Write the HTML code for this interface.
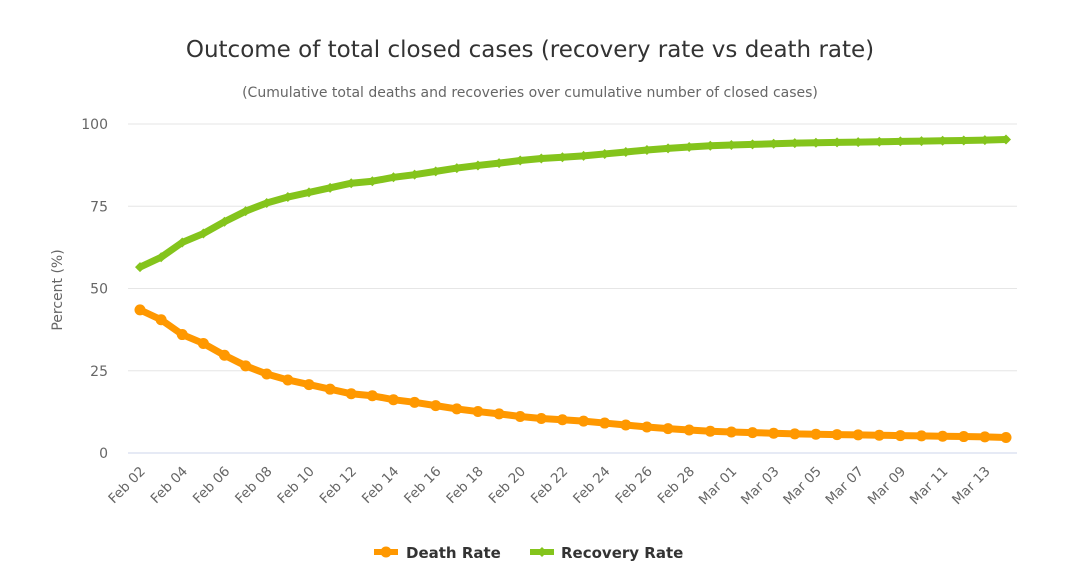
<!DOCTYPE html>
<html><head><meta charset="utf-8"><style>
body{margin:0;background:#fff;}
svg text{font-family:"DejaVu Sans","Liberation Sans",sans-serif;}
</style></head><body>
<svg id="chart" width="1073" height="579" xmlns="http://www.w3.org/2000/svg">
<text x="530" y="57" text-anchor="middle" font-size="23" fill="#333">Outcome of total closed cases (recovery rate vs death rate)</text>
<text x="530" y="97" text-anchor="middle" font-size="14" fill="#666">(Cumulative total deaths and recoveries over cumulative number of closed cases)</text>
<text transform="translate(62,290) rotate(-90)" text-anchor="middle" font-size="14" fill="#666">Percent (%)</text>
<g id="grid"></g><g id="xlabels"></g><g id="series"></g>
<g>
 <g>
  <line x1="374" y1="552" x2="398" y2="552" stroke="#FF9800" stroke-width="6"/><circle cx="386" cy="552" r="5.5" fill="#FF9800"/>
  <text x="406" y="558" font-size="15" font-weight="bold" fill="#333">Death Rate</text></g>
 <g>
  <line x1="530" y1="552" x2="554" y2="552" stroke="#84C41C" stroke-width="6"/><path d="M542 547 L547 552 L542 557 L537 552 Z" fill="#84C41C"/>
  <text x="561" y="558" font-size="15" font-weight="bold" fill="#333">Recovery Rate</text></g>
</g>
</svg>
<script>
const categories=["Feb 02","Feb 03","Feb 04","Feb 05","Feb 06","Feb 07","Feb 08","Feb 09","Feb 10","Feb 11","Feb 12","Feb 13","Feb 14","Feb 15","Feb 16","Feb 17","Feb 18","Feb 19","Feb 20","Feb 21","Feb 22","Feb 23","Feb 24","Feb 25","Feb 26","Feb 27","Feb 28","Feb 29","Mar 01","Mar 02","Mar 03","Mar 04","Mar 05","Mar 06","Mar 07","Mar 08","Mar 09","Mar 10","Mar 11","Mar 12","Mar 13","Mar 14"];
const deathRate=[43.5,40.5,36,33.3,29.7,26.5,24,22.2,20.8,19.4,18,17.4,16.2,15.4,14.4,13.4,12.6,11.9,11.1,10.5,10.1,9.7,9.1,8.5,7.9,7.4,7.0,6.6,6.4,6.2,6.0,5.8,5.7,5.6,5.5,5.4,5.3,5.2,5.1,5.0,4.9,4.7];
const recoveryRate=[56.5,59.5,64,66.7,70.3,73.5,76,77.8,79.2,80.6,82,82.6,83.8,84.6,85.6,86.6,87.4,88.1,88.9,89.5,89.9,90.3,90.9,91.5,92.1,92.6,93.0,93.4,93.6,93.8,94.0,94.2,94.3,94.4,94.5,94.6,94.7,94.8,94.9,95.0,95.1,95.3];
const yTicks=[0,25,50,75,100];
const NS="http://www.w3.org/2000/svg";
const X0=140,X1=1006,Y0=453,Y1=124,PL=128,PR=1017;
const xs=i=>X0+(X1-X0)*i/(categories.length-1);
const ys=v=>Y0-(Y0-Y1)*v/100;
function mk(t,a,p){const e=document.createElementNS(NS,t);for(const k in a)e.setAttribute(k,a[k]);p.appendChild(e);return e;}
const grid=document.getElementById('grid');
yTicks.forEach(v=>{
 const l=mk('line',{x1:PL,x2:PR,y1:ys(v),y2:ys(v),stroke:v===0?'#ccd6eb':'#e6e6e6','stroke-width':1},grid);
 
 
 const t=mk('text',{x:108,y:ys(v)+5,'text-anchor':'end','font-size':14,fill:'#666'},grid);
 t.textContent=v;
 
 
});
const xl=document.getElementById('xlabels');
categories.forEach((c,i)=>{
 if(i%2)return;
 const x=xs(i);
 const t=mk('text',{transform:`translate(${x+6},${472}) rotate(-45)`,'text-anchor':'end','font-size':13.5,fill:'#666'},xl);
 t.textContent=c;
 
 
});
const sg=document.getElementById('series');
function series(vals,color,name,diamond){
 const g=mk('g',{},sg);
 
 
 mk('polyline',{points:vals.map((v,i)=>xs(i)+','+ys(v)).join(' '),fill:'none',stroke:color,'stroke-width':7,'stroke-linejoin':'round','stroke-linecap':'round'},g);
 vals.forEach((v,i)=>{
  const x=xs(i),y=ys(v);
  const m=diamond?mk('path',{d:`M${x} ${y-5} L${x+5} ${y} L${x} ${y+5} L${x-5} ${y} Z`,fill:color},g):mk('circle',{cx:x,cy:y,r:5.5,fill:color},g);
  
  
 });
}
series(deathRate,'#FF9800','death-rate-line',false);
series(recoveryRate,'#84C41C','recovery-rate-line',true);
</script>
</body></html>
